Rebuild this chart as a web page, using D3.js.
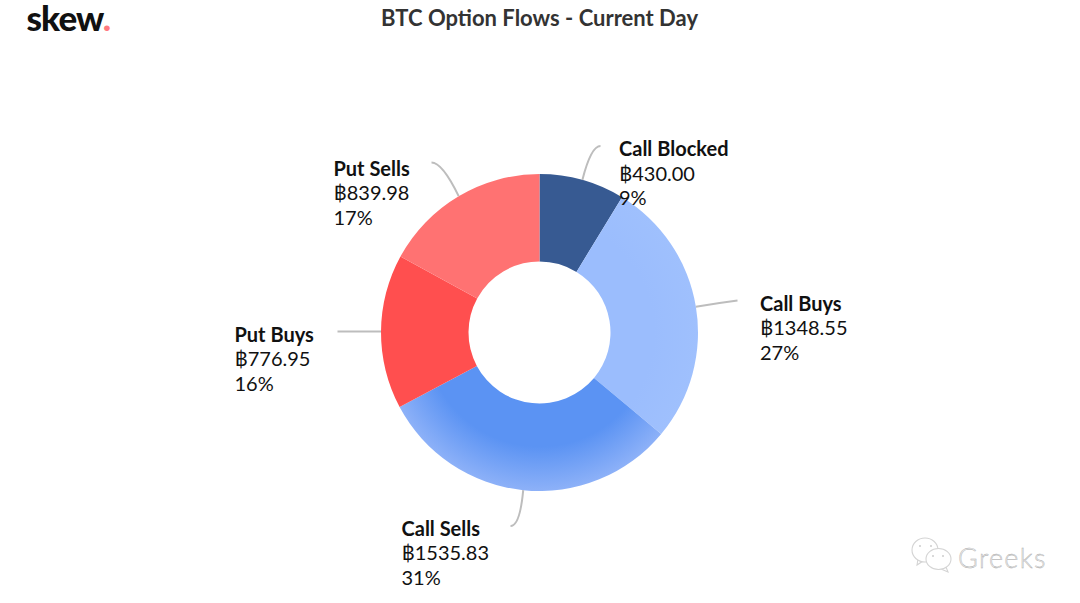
<!DOCTYPE html>
<html><head><meta charset="utf-8">
<script src="https://cdn.jsdelivr.net/npm/d3@7/dist/d3.min.js"></script>
<style>html,body{margin:0;background:#fff}svg{display:block}text{font-family:Lato,sans-serif}</style>
</head><body><svg id="c" width="1080" height="603"></svg>
<script>
const categories=["Call Blocked","Call Buys","Call Sells","Put Buys","Put Sells"];
const flows=[430.00,1348.55,1535.83,776.95,839.98];
const percents=[9,27,31,16,17];
const colors=["#375a92","#9bbdfd","#5b93f3","#ff4f4f","#ff7272"];
const edgeColors=["#375a92","#9fc0fd","#8db1f8","#ff4f4f","#ff7272"];
const title="BTC Option Flows - Current Day";
const labelOffsets=[[79.5,-176.5],[220.5,-22],[-138,203],[-305,9],[-206,-157]];
const connectorEnds=[[61,-186.5],[198,-32],[-29,193.5],[-202,-1],[-108,-170]];
const cx=539.5,cy=332.5,R=158.5,r=71;
const svg=d3.select("#c");
const defs=svg.append("defs");
categories.forEach((c,i)=>{
  const g=defs.append("radialGradient").attr("id","g"+i).attr("gradientUnits","userSpaceOnUse")
    .attr("cx",0).attr("cy",0).attr("r",R);
  g.append("stop").attr("offset","0.72").attr("stop-color",colors[i]);
  g.append("stop").attr("offset","1").attr("stop-color",edgeColors[i]);
});
svg.append("text").attr("x",539.5).attr("y",25.5).attr("text-anchor","middle")
  .attr("font-size",22).attr("font-weight",700).attr("fill","#333").text(title);
const logo=svg.append("text").attr("x",26.5).attr("y",30.5).attr("font-size",35).attr("font-weight",900)
  .attr("fill","#111").style("letter-spacing","-0.9px");
logo.append("tspan").text("skew");
logo.append("tspan").attr("fill","#ff7a80").text(".");
const pie=d3.pie().sort(null).value(d=>d)(flows);
const arc=d3.arc().innerRadius(r).outerRadius(R);
const g=svg.append("g").attr("transform",`translate(${cx},${cy})`);
g.selectAll("path.s").data(pie).join("path").attr("class","s").attr("d",arc).attr("fill",(d,i)=>`url(#g${i})`);
pie.forEach((d,i)=>{
  const a=(d.startAngle+d.endAngle)/2, s=Math.sin(a), c=-Math.cos(a);
  const [lx,ly]=labelOffsets[i];
  const [ex,ey]=connectorEnds[i];
  const kx=R*s, ky=R*c;
  const bend=(i==1||i==3)?[kx+s*20,ky+c*20]:[kx+s*32,ey];
  g.append("path").attr("d",`M${kx},${ky}Q${bend[0]},${bend[1]} ${ex},${ey}`)
    .attr("fill","none").attr("stroke","#bdbdbd").attr("stroke-width",2);
  const t=svg.append("text").attr("x",cx+lx).attr("y",cy+ly).attr("font-size",20).attr("fill","#111");
  t.append("tspan").attr("font-weight",700).text(categories[i]);
  t.append("tspan").attr("x",cx+lx).attr("dy",24.5).text("฿"+d3.format(".2f")(d.value));
  t.append("tspan").attr("x",cx+lx).attr("dy",24.5).text(percents[i]+"%");
});
// watermark
const w=svg.append("g").attr("fill","#fff").attr("stroke","#d4d4d4").attr("stroke-width",1.1);
w.append("path").attr("d","M917,565l1,-6L923,561z");
w.append("ellipse").attr("cx",925).attr("cy",550).attr("rx",13).attr("ry",12);
w.append("path").attr("d","M948,572l-2,-5L941,569z");
w.append("ellipse").attr("cx",938.5).attr("cy",559).attr("rx",12.5).attr("ry",10.5);
const eyes=[[920,546],[931,546],[933,556],[943,556]];
svg.append("g").attr("fill","#ccc").selectAll("circle").data(eyes).join("circle")
  .attr("cx",d=>d[0]).attr("cy",d=>d[1]).attr("r",1);
svg.append("text").attr("x",958).attr("y",567.5).attr("font-size",27).attr("font-weight",300).attr("fill","#eee")
  .attr("stroke","#a8a8a8").attr("stroke-width",0.4).style("letter-spacing","1.3px").text("Greeks");
</script></body></html>
